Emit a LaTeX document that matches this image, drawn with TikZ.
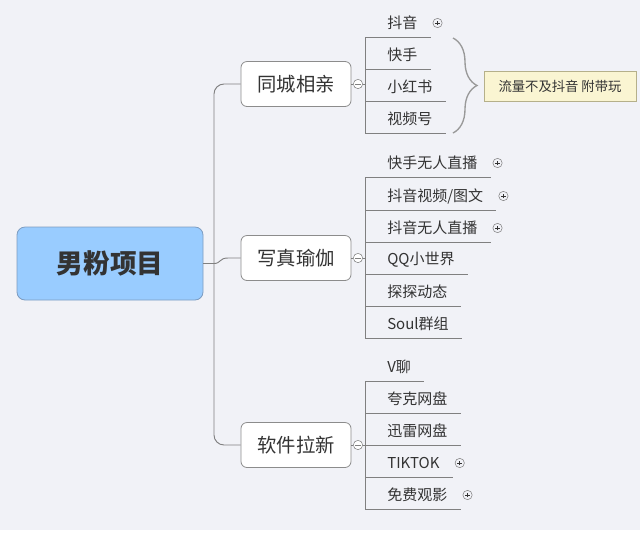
\documentclass[tikz,border=0pt]{standalone}
\usepackage{fontspec}
\setmainfont{Noto Sans CJK SC}
\usetikzlibrary{decorations.pathreplacing}
\definecolor{bgGray}{HTML}{F1F2F7}
\definecolor{rootFill}{HTML}{99CCFF}
\definecolor{rootLine}{HTML}{7D9CC0}
\definecolor{boxLine}{HTML}{8C8C8C}
\definecolor{lineGray}{HTML}{808080}
\definecolor{braceGray}{HTML}{999999}
\definecolor{textDark}{HTML}{333333}
\definecolor{noteFill}{HTML}{FAF5D2}
\definecolor{noteLine}{HTML}{B5B08A}

\begin{document}
\begin{tikzpicture}[x=0.75pt, y=-0.75pt]
	\tikzstyle{rootStyle}=[draw=rootLine, fill=rootFill, rounded corners=6pt, line width=0.6pt, minimum width=139.5pt, minimum height=54.75pt, font=\fontsize{20}{24}\selectfont\bfseries, text=textDark]
	\tikzstyle{topicStyle}=[draw=boxLine, fill=white, rounded corners=4.5pt, line width=0.6pt, minimum width=82.5pt, minimum height=33.75pt, font=\fontsize{14.5}{17}\selectfont, text=textDark]
	\tikzstyle{leafStyle}=[anchor=west, inner xsep=0pt, inner ysep=0pt, minimum height=21pt, font=\fontsize{11.25}{13}\selectfont, text=textDark]
	\tikzstyle{linkStyle}=[draw=lineGray, line width=0.7pt]
	\tikzstyle{foldStyle}=[circle, draw=lineGray, fill=white, minimum size=7pt, inner sep=0pt, path picture={\draw[lineGray, line width=0.5pt] ([xshift=-2pt]path picture bounding box.center) -- ([xshift=2pt]path picture bounding box.center);}]
	\tikzstyle{moreStyle}=[circle, draw=lineGray, minimum size=7pt, inner sep=0pt, path picture={\draw[textDark, line width=0.5pt] ([xshift=-1.8pt]path picture bounding box.center) -- ([xshift=1.8pt]path picture bounding box.center) ([yshift=-1.8pt]path picture bounding box.center) -- ([yshift=1.8pt]path picture bounding box.center);}]
	\tikzstyle{braceStyle}=[draw=braceGray, line width=1pt, decorate, decoration={brace, amplitude=18pt}]
	\tikzstyle{noteStyle}=[draw=noteLine, fill=noteFill, line width=0.6pt, minimum width=114pt, minimum height=22.5pt, font=\fontsize{10}{12}\selectfont, text=textDark]
	\useasboundingbox (0,0) rectangle (640,537);
	\fill[bgGray] (0,0) rectangle (640,530);
	\node[rootStyle] (r) at (110,263.5) {男粉项目};
	\node[topicStyle] (t0) at (296,84) {同城相亲};
	\node[topicStyle] (t1) at (296,258) {写真瑜伽};
	\node[topicStyle] (t2) at (296,445) {软件拉新};
	\coordinate (hub) at (214,263.5);
	\draw[linkStyle] (r.east) -- (hub);
	\draw[linkStyle, rounded corners=7.5pt] (t0.west) -| (hub) |- (t2.west);
	\draw[linkStyle] (hub) .. controls (221,263.5) and (219,258) .. (228,258) -- (t1.west);
	\node[foldStyle] (f0) at (358,84) {};
	\node[foldStyle] (f1) at (358,258) {};
	\node[foldStyle] (f2) at (358,445) {};
	\draw[linkStyle] (t0.east) -- (f0.west);
	\draw[linkStyle] (t1.east) -- (f1.west);
	\draw[linkStyle] (t2.east) -- (f2.west);
	\node[leafStyle] (l0) at (387,23) {抖音};
	\node[leafStyle] (l1) at (387,55) {快手};
	\node[leafStyle] (l2) at (387,87) {小红书};
	\node[leafStyle] (l3) at (387,119) {视频号};
	\node[leafStyle] (l4) at (387,163) {快手无人直播};
	\node[leafStyle] (l5) at (387,196) {抖音视频/图文};
	\node[leafStyle] (l6) at (387,228) {抖音无人直播};
	\node[leafStyle] (l7) at (387,260) {QQ小世界};
	\node[leafStyle] (l8) at (387,292) {探探动态};
	\node[leafStyle] (l9) at (387,324) {Soul群组};
	\node[leafStyle] (l10) at (387,367) {V聊};
	\node[leafStyle] (l11) at (387,399) {夸克网盘};
	\node[leafStyle] (l12) at (387,431) {迅雷网盘};
	\node[leafStyle] (l13) at (387,463) {TIKTOK};
	\node[leafStyle] (l14) at (387,495) {免费观影};
	\foreach \i in {0,...,14} {
		\draw[linkStyle] ([xshift=-16.5pt]l\i.south west) -- ([xshift=9.75pt]l\i.south east);
	}
	\coordinate (k0) at ([xshift=-16.5pt]l0.south west);
	\coordinate (k1) at ([xshift=-16.5pt]l4.south west);
	\coordinate (k2) at ([xshift=-16.5pt]l10.south west);
	\draw[linkStyle] (k0) -- ([xshift=-16.5pt]l3.south west);
	\draw[linkStyle] (k1) -- ([xshift=-16.5pt]l9.south west);
	\draw[linkStyle] (k2) -- ([xshift=-16.5pt]l14.south west);
	\draw[linkStyle] (f0.east) -- (f0.east -| k0);
	\draw[linkStyle] (f1.east) -- (f1.east -| k1);
	\draw[linkStyle] (f2.east) -- (f2.east -| k2);
	\node[moreStyle] (m0) at ([xshift=15pt]l0.east) {};
	\node[moreStyle] (m4) at ([xshift=15pt]l4.east) {};
	\node[moreStyle] (m5) at ([xshift=15pt]l5.east) {};
	\node[moreStyle] (m6) at ([xshift=15pt]l6.east) {};
	\node[moreStyle] (m13) at ([xshift=15pt]l13.east) {};
	\node[moreStyle] (m14) at ([xshift=15pt]l14.east) {};
	\draw[braceStyle] (453,38) -- (453,133);
	\node[noteStyle] (n) at (560,86) {流量不及抖音 附带玩};
\end{tikzpicture}
\end{document}
